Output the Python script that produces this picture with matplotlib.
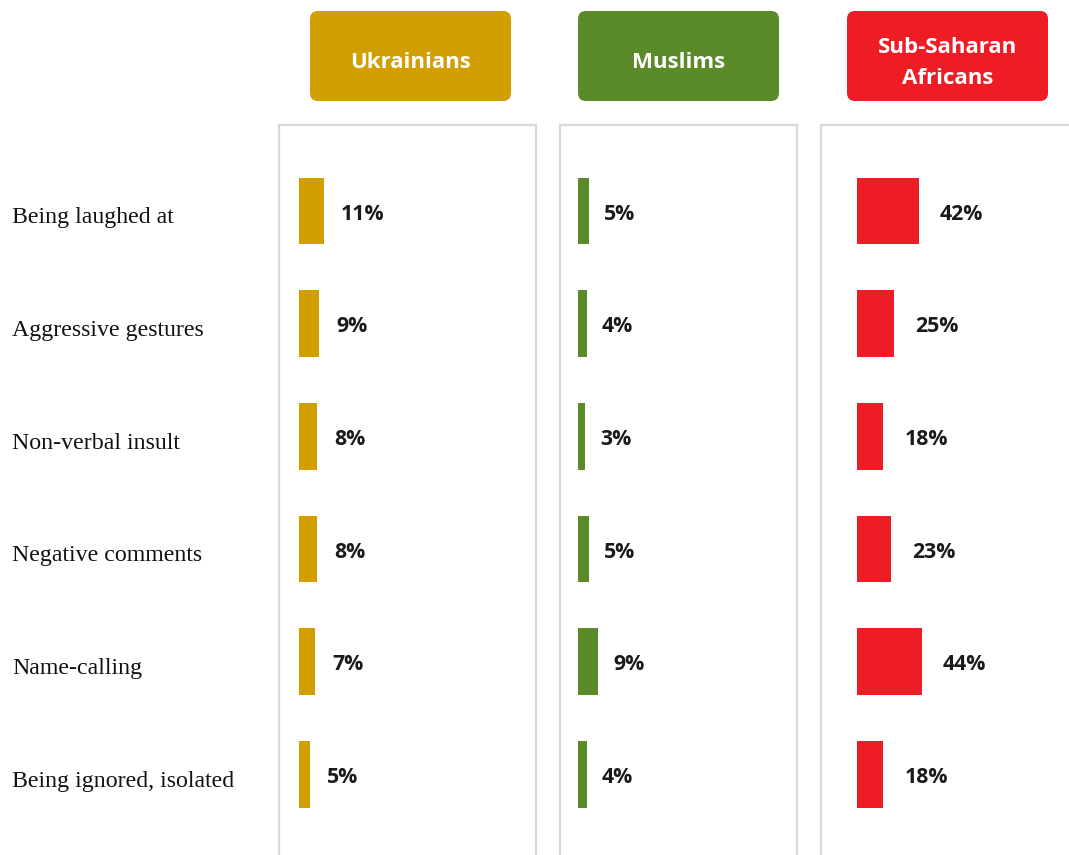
import matplotlib
matplotlib.use("Agg")
import matplotlib.pyplot as plt
from matplotlib.patches import FancyBboxPatch
import matplotlib.transforms as mtransforms

categories = ["Being laughed at", "Aggressive gestures", "Non-verbal insult",
              "Negative comments", "Name-calling", "Being ignored, isolated"]
groups = ["Ukrainians", "Muslims", "Sub-Saharan\nAfricans"]
ukrainians = [11, 9, 8, 8, 7, 5]
muslims = [5, 4, 3, 5, 9, 4]
sub_saharan = [42, 25, 18, 23, 44, 18]
series = [ukrainians, muslims, sub_saharan]
colors = ["#D29F00", "#5A8B28", "#EE1C25"]

W, H = 1069, 855
fig = plt.figure(figsize=(W / 100, H / 100), dpi=100)
fig.patch.set_facecolor("white")

def fx(px):
    return px / W

def fy(py):
    return 1 - py / H

# panel geometry in pixels: (left, right, bar_start, px_per_unit, label_gap_px)
panels = [(279, 536, 299, 2.27, 17),
          (560, 797, 578, 2.27, 15),
          (821, 1095, 857, 1.47, 21)]
header_boxes = [(310, 511), (578, 779), (847, 1048)]
top_px, bot_px = 125, 875
row0_px, row_step = 211, 112.65
bar_h = 66.7 / row_step

axes = []
for k, (l, r, b0, scale, gap) in enumerate(panels):
    ax = fig.add_axes([fx(l), fy(bot_px), fx(r) - fx(l), fy(top_px) - fy(bot_px)])
    ax.set_xlim(-(b0 - l) / scale, (r - b0) / scale)
    ax.set_ylim((bot_px - row0_px) / row_step, -(row0_px - top_px) / row_step)
    vals = series[k]
    ax.barh(range(len(categories)), vals, height=bar_h, color=colors[k], zorder=3)
    for i, v in enumerate(vals):
        ax.annotate(f"{v}%", xy=(v, i), xytext=(gap * 0.72, -2.2),
                    textcoords="offset points", ha="left", va="center",
                    fontsize=15.3, fontweight="bold", family="Open Sans",
                    color="#1a1a1a")
    ax.set_xticks([])
    ax.set_yticks([])
    for s in ["left", "right", "top"]:
        ax.spines[s].set_color("#D9D9D9")
        ax.spines[s].set_linewidth(1.6)
    ax.spines["bottom"].set_visible(False)
    axes.append(ax)

    # header box
    hl, hr = header_boxes[k]
    rad = 8
    box = FancyBboxPatch((fx(hl + rad), fy(101 - rad)),
                         fx(hr - hl - 2 * rad), fy(11 + rad) - fy(101 - rad),
                         boxstyle=f"round,pad={rad / W}",
                         transform=fig.transFigure, facecolor=colors[k],
                         edgecolor="none", mutation_aspect=W / H)
    fig.patches.append(box)
    fig.text(fx((hl + hr) / 2), fy(63), groups[k], ha="center", va="center",
             color="white", fontsize=16, fontweight="bold", family="Open Sans",
             linespacing=1.65)

# category labels
trans = mtransforms.blended_transform_factory(fig.transFigure, axes[0].transData)
for i, c in enumerate(categories):
    fig.text(fx(12), i + 0.06, c, transform=trans, ha="left", va="center",
             fontsize=17.2, family="Liberation Serif", color="#111111")

fig.savefig("out.png", dpi=100, facecolor="white")
